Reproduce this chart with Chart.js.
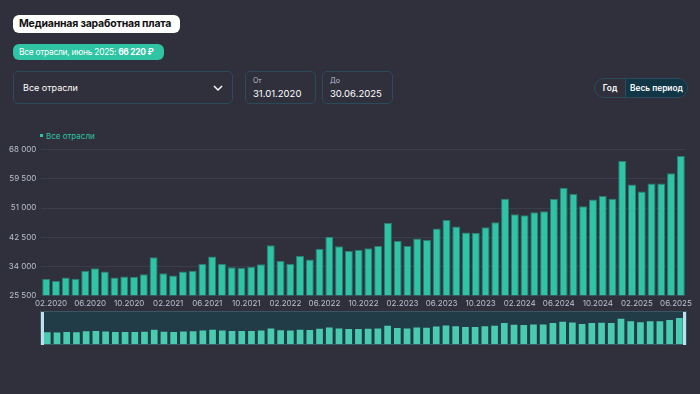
<!DOCTYPE html>
<html lang="ru">
<head>
<meta charset="utf-8">
<script src="https://cdn.jsdelivr.net/npm/chart.js@4.4.1/dist/chart.umd.min.js"></script>
<style>
  body { margin: 0; width: 700px; height: 394px; background: #30303d; font-family: Inter, "Noto Sans", sans-serif; color: #fff; overflow: hidden; position: relative; }
  .abs { position: absolute; box-sizing: border-box; }
  #title { left: 13px; top: 15px; width: 167px; height: 18px; background: #fff; color: #111; border-radius: 6px; font-weight: 700; font-size: 10.5px; letter-spacing: -0.2px; line-height: 18px; padding-left: 6px; white-space: nowrap; }
  #badge { left: 13px; top: 44px; width: 151px; height: 16px; background: #2ec4a4; border-radius: 6px; font-size: 8.4px; letter-spacing: -0.25px; line-height: 16px; padding-left: 6px; white-space: nowrap; }
  .box { border: 1px solid #2b4a5b; border-radius: 5px; height: 33px; top: 71px; }
  #select { left: 13px; width: 220px; }
  #select span { position: absolute; left: 9px; top: 10px; font-size: 9px; }
  #select svg { position: absolute; left: 199px; top: 12px; }
  .date small { position: absolute; left: 7px; top: 4px; font-size: 7px; color: #b8bfcb; }
  .date span { position: absolute; left: 7px; top: 16px; font-size: 9.5px; }
  #from { left: 245px; width: 71px; }
  #to { left: 322px; width: 71px; }
  #toggle { left: 594px; top: 78px; width: 94px; height: 20px; border: 1px solid #2b4a5b; border-radius: 10px; overflow: hidden; display: flex; font-size: 8.3px; font-weight: 600; line-height: 18px; }
  #toggle div { text-align: center; }
  #toggle .year { width: 30px; border-right: 1px solid #2b4a5b; }
  #toggle .all { flex: 1; background: #113646; }
  #legend { left: 40px; top: 131px; font-size: 8px; color: #2ec4a4; white-space: nowrap; }
  #legend i { display: inline-block; width: 3px; height: 3px; background: #2ec4a4; margin-right: 3px; vertical-align: middle; position: relative; top: -1px; }
  #mainWrap { left: 0; top: 140px; width: 700px; height: 176px; }
  #navBg { left: 40px; top: 311px; width: 647px; height: 34px; background: #213c47; border: 1px solid #3c5560; }
  #navWrap { left: 40px; top: 311px; width: 647px; height: 34px; }
  .handle { top: 312px; width: 3px; height: 33px; background: #b9e1ee; }
</style>
</head>
<body>
<div id="title" class="abs">Медианная заработная плата</div>
<div id="badge" class="abs">Все отрасли, июнь 2025: <b>66 220 ₽</b></div>
<div id="select" class="abs box"><span>Все отрасли</span>
  <svg width="10" height="8" viewBox="0 0 10 8"><polyline points="1,2 5,6 9,2" fill="none" stroke="#fff" stroke-width="1.5"/></svg>
</div>
<div id="from" class="abs box date"><small>От</small><span>31.01.2020</span></div>
<div id="to" class="abs box date"><small>До</small><span>30.06.2025</span></div>
<div id="toggle" class="abs"><div class="year">Год</div><div class="all">Весь период</div></div>
<div id="legend" class="abs"><i></i>Все отрасли</div>
<div id="navBg" class="abs"></div>
<div id="navWrap" class="abs"><canvas id="navChart" width="647" height="34"></canvas></div>
<div class="abs handle" style="left:41px"></div>
<div class="abs handle" style="left:683px"></div>
<div id="mainWrap" class="abs"><canvas id="mainChart" width="700" height="176"></canvas></div>
<script>
const months = [
  "01.2020", "02.2020", "03.2020", "04.2020", "05.2020", "06.2020", "07.2020", "08.2020", "09.2020", "10.2020", "11.2020", "12.2020",
  "01.2021", "02.2021", "03.2021", "04.2021", "05.2021", "06.2021", "07.2021", "08.2021", "09.2021", "10.2021", "11.2021", "12.2021",
  "01.2022", "02.2022", "03.2022", "04.2022", "05.2022", "06.2022", "07.2022", "08.2022", "09.2022", "10.2022", "11.2022", "12.2022",
  "01.2023", "02.2023", "03.2023", "04.2023", "05.2023", "06.2023", "07.2023", "08.2023", "09.2023", "10.2023", "11.2023", "12.2023",
  "01.2024", "02.2024", "03.2024", "04.2024", "05.2024", "06.2024", "07.2024", "08.2024", "09.2024", "10.2024", "11.2024", "12.2024",
  "01.2025", "02.2025", "03.2025", "04.2025", "05.2025", "06.2025"
];

const salary = [
  30230, 29650, 30720, 30330, 32650, 33420, 32460, 30720, 31010, 30910, 31680, 36610,
  31970, 31300, 32460, 32650, 34720, 36800, 34680, 33710, 33520, 33810, 34580, 40090,
  35550, 34680, 37000, 35930, 39120, 42600, 39800, 38440, 38730, 39220, 39890, 46650,
  41340, 39890, 42110, 41630, 45010, 47520, 45590, 43850, 43760, 45400, 46850, 53710,
  49170, 48880, 49750, 50040, 53610, 56900, 55060, 51490, 53510, 54480, 53710, 64720,
  57860, 55830, 58150, 58150, 61150, 66220
];

const yTicks = [25500, 34000, 42500, 51000, 59500, 68000];

function formatThousands(v) {
  return String(v).replace(/\B(?=(\d{3})+(?!\d))/g, " ");
}

const tickFont = { family: "Inter, 'Noto Sans', sans-serif", size: 8 };

new Chart(document.getElementById("mainChart"), {
  type: "bar",
  data: {
    labels: months,
    datasets: [{
      label: "Все отрасли",
      data: salary,
      backgroundColor: "#2fc4a5",
      borderColor: "#2a7f72",
      borderWidth: 1,
      barPercentage: 1,
      categoryPercentage: 0.82,
    }],
  },
  options: {
    responsive: false,
    animation: false,
    layout: { padding: { top: 9.3, right: 14.3, left: 0, bottom: 0 } },
    plugins: { legend: { display: false }, tooltip: { enabled: false } },
    scales: {
      x: {
        grid: { display: false },
        border: { display: false },
        afterFit: (axis) => { axis.height = 20.7; },
        ticks: {
          autoSkip: false,
          maxRotation: 0,
          padding: -5,
          labelOffset: -4.88,
          color: "#b9c0cc",
          font: tickFont,
          callback: function (val, i) { return i % 4 === 1 ? months[i] : ""; },
        },
      },
      y: {
        min: yTicks[0],
        max: yTicks[yTicks.length - 1],
        afterFit: (axis) => { axis.width = 41.3; },
        afterBuildTicks: (axis) => { axis.ticks = yTicks.map((v) => ({ value: v })); },
        border: { display: false },
        grid: { color: "rgba(80, 90, 110, 0.32)", drawTicks: false, lineWidth: 1 },
        ticks: {
          padding: 5,
          color: "#b9c0cc",
          font: tickFont,
          callback: (v) => formatThousands(v),
        },
      },
    },
  },
});

// navigator strip under the main chart
new Chart(document.getElementById("navChart"), {
  type: "bar",
  data: {
    labels: months,
    datasets: [{
      data: salary,
      backgroundColor: "#4acaae",
      borderWidth: 0,
      barPercentage: 1,
      categoryPercentage: 0.69,
    }],
  },
  options: {
    responsive: false,
    animation: false,
    layout: { padding: { left: 2.4, right: 2.8, top: 0, bottom: 0.7 } },
    plugins: { legend: { display: false }, tooltip: { enabled: false } },
    scales: {
      x: { display: false },
      y: { display: false, min: 0, max: 84000 },
    },
  },
});
</script>
</body>
</html>
